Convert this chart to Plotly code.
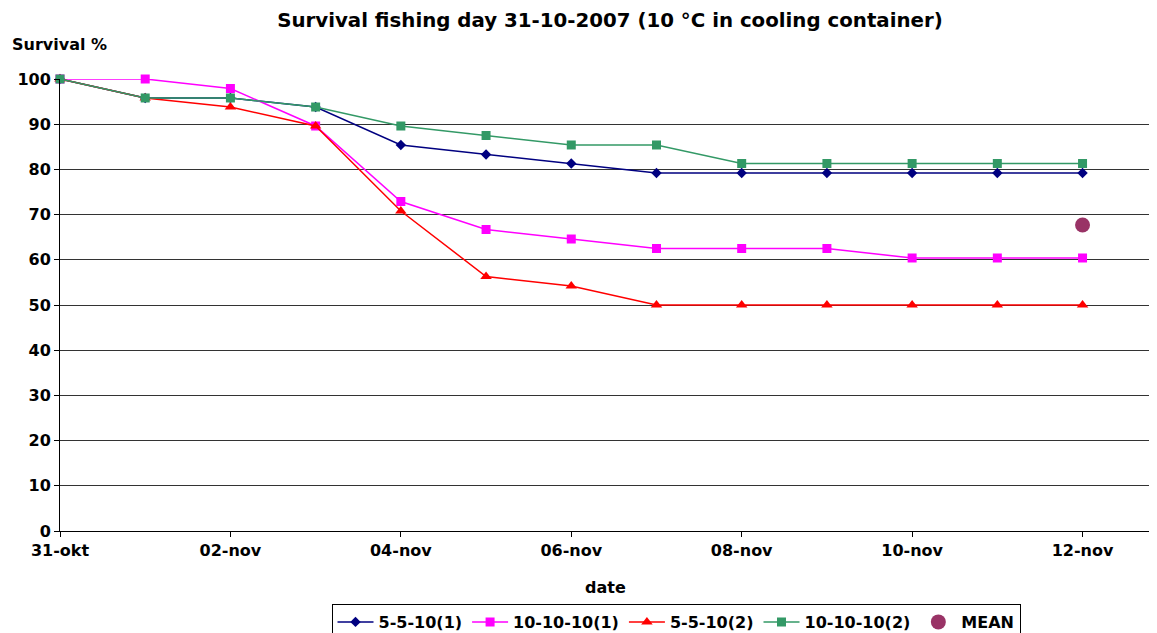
import plotly.graph_objects as go

# observation dates (31 Oct - 12 Nov 2007)
dates = ['2007-10-31', '2007-11-01', '2007-11-02', '2007-11-03', '2007-11-04',
         '2007-11-05', '2007-11-06', '2007-11-07', '2007-11-08', '2007-11-09',
         '2007-11-10', '2007-11-11', '2007-11-12']

# survival % per group
s_5_5_10_1 = [100, 95.8, 95.8, 93.8, 85.4, 83.3, 81.3, 79.2, 79.2, 79.2, 79.2, 79.2, 79.2]
s_10_10_10_1 = [100, 100, 97.9, 89.6, 72.9, 66.7, 64.6, 62.5, 62.5, 62.5, 60.4, 60.4, 60.4]
s_5_5_10_2 = [100, 95.8, 93.8, 89.6, 70.8, 56.3, 54.2, 50, 50, 50, 50, 50, 50]
s_10_10_10_2 = [100, 95.8, 95.8, 93.8, 89.6, 87.5, 85.4, 85.4, 81.3, 81.3, 81.3, 81.3, 81.3]

mean_date = ['2007-11-12']
mean_value = [67.7]

tick_dates = ['2007-10-31', '2007-11-02', '2007-11-04', '2007-11-06',
              '2007-11-08', '2007-11-10', '2007-11-12']
tick_labels = ['31-okt', '02-nov', '04-nov', '06-nov', '08-nov', '10-nov', '12-nov']

FONT = 'DejaVu Sans, Liberation Sans, Arial, sans-serif'

# the page body has an 8px margin, so the figure is drawn 8px smaller
W, H = 1149, 625

fig = go.Figure()

series = [
    ('5-5-10(1)', s_5_5_10_1, '#000080', 'diamond', 8),
    ('10-10-10(1)', s_10_10_10_1, '#FF00FF', 'square', 9),
    ('5-5-10(2)', s_5_5_10_2, '#FF0000', 'triangle-up', 10),
    ('10-10-10(2)', s_10_10_10_2, '#339966', 'square', 9),
]
for name, vals, color, symbol, size in series:
    fig.add_trace(go.Scatter(
        x=dates, y=vals, name=name, mode='lines+markers',
        line=dict(color=color, width=1.5),
        marker=dict(symbol=symbol, size=size, color=color),
        cliponaxis=False
    ))

fig.add_trace(go.Scatter(
    x=mean_date, y=mean_value, name='MEAN', mode='markers',
    marker=dict(symbol='circle', size=15, color='#993366'),
    cliponaxis=False
))

fig.update_layout(
    width=W, height=H,
    margin=dict(l=52, r=7, t=71, b=102, autoexpand=False),
    paper_bgcolor='white', plot_bgcolor='white',
    font=dict(family=FONT, color='black', size=16),
    title=dict(text='<b>Survival fishing day 31-10-2007 (10 °C in cooling container)</b>',
               x=602 / W, xanchor='center', y=1 - 12 / H, yanchor='middle',
               font=dict(size=19.8)),
    showlegend=True,
    legend=dict(orientation='h', xref='container', yref='container',
                x=668 / W, xanchor='center', y=1 - 596 / H, yanchor='top',
                bordercolor='black', borderwidth=1,
                font=dict(size=16, weight='bold'),
                itemwidth=36, tracegroupgap=0),
    annotations=[
        dict(text='<b>Survival %</b>', xref='paper', yref='paper',
             x=-0.046, y=1.077, xanchor='left', yanchor='middle',
             showarrow=False, font=dict(size=16)),
        dict(text='<b>date</b>', xref='paper', yref='paper',
             x=0.5, y=-0.126, xanchor='center', yanchor='middle',
             showarrow=False, font=dict(size=16)),
    ],
)

fig.update_xaxes(
    type='date', range=['2007-10-31', '2007-11-12 19:00'],
    tickvals=tick_dates, ticktext=tick_labels,
    tickfont=dict(size=16, weight='bold'),
    showgrid=False, zeroline=False,
    showline=True, linecolor='black', linewidth=1,
    ticks='outside', ticklen=5, tickcolor='black',
)
fig.update_yaxes(
    range=[0, 100], dtick=10,
    tickfont=dict(size=16, weight='bold'),
    showgrid=True, gridcolor='#333333', gridwidth=1,
    zeroline=False,
    showline=True, linecolor='black', linewidth=1,
    ticks='outside', ticklen=5, tickcolor='black',
)

fig.write_html("out.html")
